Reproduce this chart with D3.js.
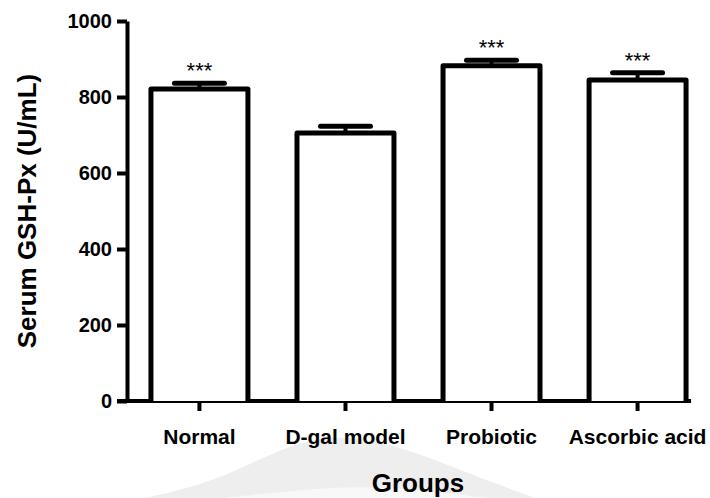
<!DOCTYPE html>
<html>
<head>
<style>
  body {
    margin: 0;
    background-color: #fff;
  }

  text {
    font-family: Arial, "Liberation Sans", Helvetica, sans-serif;
  }
</style>
  <script src="https://d3js.org/d3.v7.min.js"></script>
</head>
<body>
<script>
// serum GSH-Px by group, mean +/- SEM

const groups = ['Normal', 'D-gal model', 'Probiotic', 'Ascorbic acid'];
const means = [821, 705, 882, 845];
const errors = [15, 18, 15, 19];
const marks = ['***', '', '***', '***'];
const yTicks = [0, 200, 400, 600, 800, 1000];

const width = 710;
const height = 498;

const svg = d3.select('body')
  .append('svg')
  .attr('width', width)
  .attr('height', height);

svg.append('rect')
  .attr('width', width)
  .attr('height', height)
  .attr('fill', '#fff');

// faint watermark hill behind the x title
const hill = d3.area()
  .x(d => d[0])
  .y0(height)
  .y1(d => d[1])
  .curve(d3.curveBasis);

svg.append('path')
  .attr('d', hill([[145, 498], [215, 482], [285, 446], [335, 434], [395, 444], [465, 472], [535, 498]]))
  .attr('fill', '#eeeeee');

svg.append('path')
  .attr('d', hill([[220, 498], [300, 490], [360, 486], [420, 490], [490, 498]]))
  .attr('fill', '#f8f8f8');

const y = d3.scaleLinear()
  .domain([0, 1000])
  .range([401, 21]);

const x = d3.scaleBand()
  .domain(groups)
  .range([127, 710])
  .paddingInner(0.336)
  .paddingOuter(0.164);

// y axis
const yAxis = svg.append('g')
  .attr('transform', 'translate(127,0)')
  .call(d3.axisLeft(y).tickValues(yTicks).tickFormat(d3.format('d'))
    .tickSize(10).tickSizeOuter(0).tickPadding(5));

yAxis.select('.domain')
  .attr('stroke', '#000')
  .attr('stroke-width', 4);

yAxis.selectAll('.tick line')
  .attr('stroke-width', 4);

yAxis.selectAll('.tick text')
  .attr('font-size', 20)
  .attr('font-weight', 'bold')
  .attr('fill', '#000');

// x axis
const xAxis = svg.append('g')
  .attr('transform', 'translate(0,401)')
  .call(d3.axisBottom(x).tickSize(10).tickPadding(18));

xAxis.select('.domain').remove();

xAxis.selectAll('.tick line')
  .attr('stroke-width', 4);

xAxis.selectAll('.tick text')
  .attr('font-size', 21)
  .attr('font-weight', 'bold')
  .attr('fill', '#000');

svg.append('line')
  .attr('x1', 117)
  .attr('x2', x(groups[groups.length - 1]) + x.bandwidth() + 5)
  .attr('y1', y(0))
  .attr('y2', y(0))
  .attr('stroke', '#000')
  .attr('stroke-width', 4);

// error bars
const errG = svg.append('g');
groups.forEach((g, i) => {
  const cx = x(g) + x.bandwidth() / 2;
  errG.append('line')
    .attr('x1', cx).attr('x2', cx)
    .attr('y1', y(means[i])).attr('y2', y(means[i] + errors[i]))
    .attr('stroke', '#000')
    .attr('stroke-width', 4);
  errG.append('line')
    .attr('x1', cx - 25).attr('x2', cx + 25)
    .attr('y1', y(means[i] + errors[i])).attr('y2', y(means[i] + errors[i]))
    .attr('stroke', '#000')
    .attr('stroke-width', 5)
    .attr('stroke-linecap', 'round');
});

// bars: open boxes standing on the x axis
svg.selectAll('.bar')
  .data(groups)
  .enter()
  .append('path')
  .attr('class', 'bar')
  .attr('d', (g, i) => {
    const x0 = x(g);
    const x1 = x0 + x.bandwidth();
    return `M${x0},${y(0)}V${y(means[i])}H${x1}V${y(0)}`;
  })
  .attr('fill', '#fff')
  .attr('stroke', '#000')
  .attr('stroke-width', 5)
  .attr('stroke-linejoin', 'round');

// significance stars
svg.selectAll('.star')
  .data(groups)
  .enter()
  .append('text')
  .attr('class', 'star')
  .attr('x', g => x(g) + x.bandwidth() / 2)
  .attr('y', (g, i) => y(means[i] + errors[i]) - 5)
  .attr('text-anchor', 'middle')
  .attr('font-size', 22)
  .text((g, i) => marks[i]);

// axis titles
svg.append('text')
  .attr('x', 418)
  .attr('y', 492)
  .attr('text-anchor', 'middle')
  .attr('font-size', 26)
  .attr('font-weight', 'bold')
  .text('Groups');

svg.append('text')
  .attr('transform', `translate(36,${(y(0) + y(1000)) / 2}) rotate(-90)`)
  .attr('text-anchor', 'middle')
  .attr('font-size', 26)
  .attr('font-weight', 'bold')
  .text('Serum GSH-Px (U/mL)');
</script>
</body>
</html>
